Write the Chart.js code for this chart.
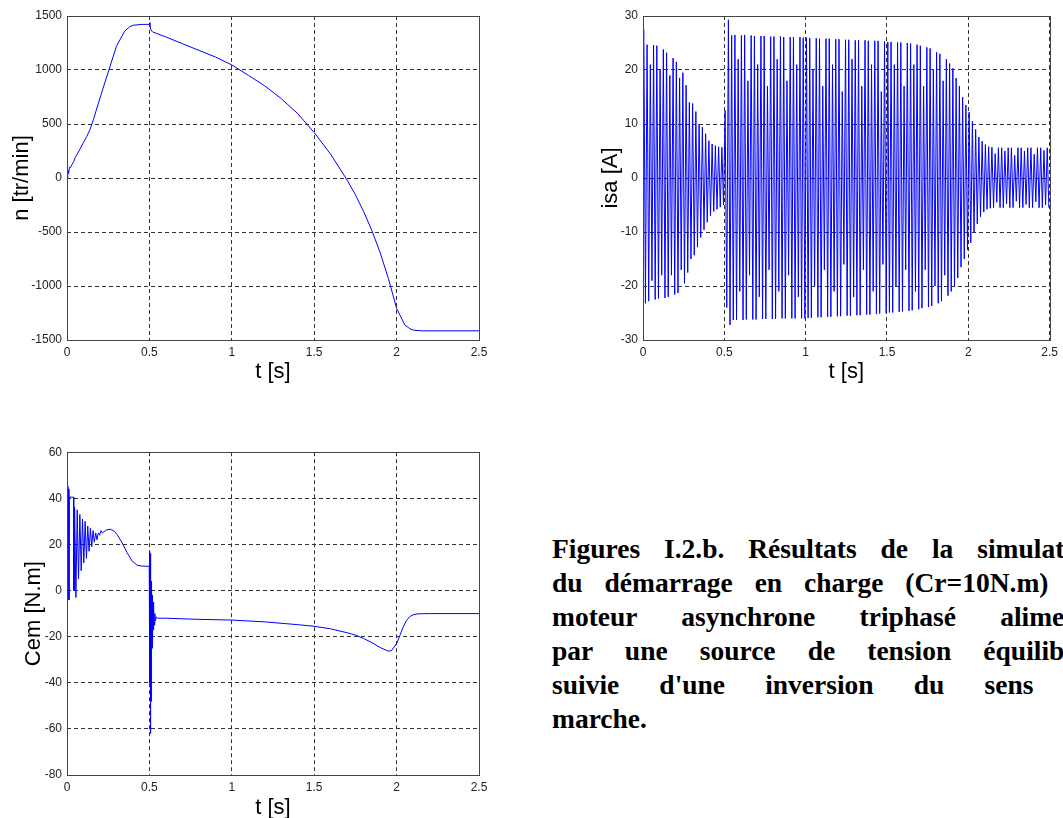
<!DOCTYPE html>
<html>
<head>
<meta charset="utf-8">
<script src="https://cdn.jsdelivr.net/npm/chart.js@4.4.0/dist/chart.umd.min.js"></script>
<style>
  html, body { margin: 0; padding: 0; background: #fff; }
  body { width: 1063px; height: 818px; position: relative; overflow: hidden; }
  canvas { position: absolute; }
  #caption {
    position: absolute; left: 552px; top: 532px; width: 549px;
    font: bold 27.5px "Liberation Serif", "Times New Roman", serif;
    line-height: 34px; color: #000;
  }
  #caption div { text-align: justify; text-align-last: justify; }
  #caption div.last { text-align-last: left; }
</style>
</head>
<body>
<canvas id="speedChart" width="500" height="400" style="left:0;top:0;width:500px;height:400px"></canvas>
<canvas id="currentChart" width="503" height="400" style="left:560px;top:0;width:503px;height:400px"></canvas>
<canvas id="torqueChart" width="500" height="390" style="left:0;top:440px;width:500px;height:390px"></canvas>
<div id="caption">
  <div>Figures I.2.b. Résultats de la simulation</div>
  <div>du démarrage en charge (Cr=10N.m) du</div>
  <div>moteur asynchrone triphasé alimenté</div>
  <div>par une source de tension équilibrée</div>
  <div>suivie d'une inversion du sens de</div>
  <div class="last">marche.</div>
</div>
<script>
// speed n [tr/min]
var speedT = [0, 0.005, 0.01, 0.015, 0.02, 0.03, 0.04, 0.05, 0.08, 0.1, 0.12, 0.14, 0.16, 0.2, 0.25, 0.3, 0.35, 0.38, 0.4, 0.45,
  0.5, 0.503, 0.507, 0.515, 0.52, 0.6, 0.7, 0.8, 0.9, 1.0, 1.1, 1.2, 1.3, 1.4, 1.5, 1.6, 1.7, 1.75, 1.8, 1.85, 1.9, 1.95,
  2.0, 2.05, 2.08, 2.1, 2.15, 2.5];
var speedN = [0, 74, 43, 100, 95, 125, 150, 190, 270, 330, 385, 450, 540, 740, 980, 1220, 1360, 1400, 1414, 1422,
  1423, 1440, 1380, 1360, 1352, 1306, 1244, 1182, 1121, 1047, 951, 853, 735, 596, 421, 220, -20, -155, -310, -487, -690, -930,
  -1207, -1361, -1395, -1408, -1415, -1415];

// stator current isa [A]: one upper and one lower peak per 50 Hz cycle
var isaPeriod = 0.02;
var isaUpper = [
  27.5, 24.7, 21, 24.6, 24.5, 20, 23.8, 23.2, 19, 22.2, 21.5, 18.5, 19.5, 17.2, 14, 13.8, 12.3, 10, 9.4, 8.2, 6.9, 6.3, 6.0, 5.8, 5.7,
  12.5, 29.3,
  26.4, 26.5, 22, 26.4, 26.5, 18, 26.4, 26.3, 21, 26.3, 26.3, 17, 26.2, 26.2, 22, 26.2, 26.1, 18, 26.1, 26.1, 21, 26.1, 26.0,
  26.0, 25.9, 20, 25.9, 25.8, 17, 25.8, 25.8, 21, 25.7, 25.7, 16, 25.6, 25.6, 22, 25.5, 25.5, 17, 25.5, 25.4, 21, 25.4, 25.4, 16, 25.3,
  25.2, 25.2, 21, 25.1, 25.1, 17, 25.0, 24.9, 21, 24.7, 24.5, 17, 24.2, 24.0, 20, 23.3, 23.0, 18, 22.0, 21.2, 20.3, 18.5, 17.0, 15.0, 13.5,
  12.2, 10.5, 9.0, 7.6, 6.8, 6.2, 5.8, 5.7, 4.5, 5.6, 5.6, 5.0, 5.6, 5.6, 4.2, 5.6, 5.6, 5.0, 5.6, 5.6, 4.4, 5.6, 5.6, 5.1, 5.6
];
var isaLower = [
  -23.2, -22.8, -19, -22.5, -22.3, -18, -22.2, -22.0, -18, -21.6, -21.3, -17, -19.5, -17.5, -15, -14.3, -12.8, -11, -9.6, -8.2, -7.0, -6.2, -5.8, -5.4, -5.0,
  -24, -27.2,
  -26.3, -26.3, -21, -26.3, -26.2, -18, -26.2, -26.2, -22, -26.1, -26.1, -17, -26.1, -26.1, -21, -26.0, -26.0, -18, -26.0, -26.0, -22, -26.0, -26.0,
  -25.9, -25.9, -20, -25.8, -25.8, -17, -25.7, -25.7, -21, -25.6, -25.6, -16, -25.5, -25.5, -22, -25.4, -25.4, -17, -25.3, -25.3, -21, -25.2, -25.1, -16, -25.0,
  -24.9, -24.9, -20, -24.8, -24.7, -17, -24.6, -24.5, -21, -24.3, -24.1, -17, -23.9, -23.7, -20, -23.2, -22.8, -18, -21.8, -21.0, -20.1, -18.5, -16.5, -15.0, -13.3,
  -12.0, -10.0, -8.5, -7.2, -6.3, -5.8, -5.6, -5.5, -4.5, -5.5, -5.5, -4.8, -5.5, -5.5, -4.3, -5.5, -5.5, -4.9, -5.5, -5.5, -4.4, -5.5, -5.5, -5.0, -5.5
];

// electromagnetic torque Cem [N.m]
var cemT = [0, 0.003, 0.009, 0.012, 0.014, 0.040, 0.041, 0.044,
  0.046, 0.054, 0.062, 0.070, 0.078, 0.086, 0.094, 0.102, 0.110, 0.118, 0.126, 0.134, 0.142, 0.150, 0.158, 0.166,
  0.174, 0.182, 0.190, 0.198, 0.206, 0.214,
  0.224, 0.24, 0.263, 0.285, 0.303, 0.334, 0.364, 0.394, 0.425, 0.455, 0.499,
  0.5005, 0.503, 0.5045, 0.5065, 0.508, 0.510, 0.5115, 0.513, 0.5145, 0.516, 0.518, 0.520, 0.522, 0.524, 0.527, 0.530,
  0.533, 0.537, 0.542, 0.55,
  0.6, 0.8, 1.0, 1.2, 1.4, 1.5, 1.6, 1.7, 1.75, 1.8, 1.85, 1.9, 1.95, 1.97, 2.0, 2.02, 2.04, 2.06, 2.08, 2.1, 2.13, 2.2, 2.5];
var cemV = [15, 46, 44, -4, 40.5, 40.5, 0, 0,
  36, -3, 35, 5, 33, 8.6, 31, 12, 30, 14, 28, 17, 27, 19, 26, 21,
  25, 22, 25, 24, 26, 25,
  25.5, 26.3, 26.6, 25.8, 24.4, 20.8, 16.5, 12.9, 11.0, 10.6, 10.5,
  17, -40, 16, -62, 8, -48, 4, -35, 2, -25, -2, -20, -5, -17, -8, -15,
  -10, -13, -11.5, -12,
  -12, -12.5, -12.8, -13.6, -14.8, -15.5, -16.6, -18.3, -19.3, -20.8, -22.6, -24.7, -26.3, -26, -23, -19.5, -15.8, -13, -11.3, -10.5, -10.1, -10, -10];

var tTicks = [0, 2.5, 0.5];

Chart.defaults.font.family = '"Liberation Sans", Arial, sans-serif';
Chart.defaults.animation = false;

function toPoints(xs, ys) {
  var pts = [];
  for (var i = 0; i < xs.length; i++) pts.push({x: xs[i], y: ys[i]});
  return pts;
}

var isaT = [], isaV = [];
for (var k = 0; k < isaUpper.length; k++) {
  isaT.push(k * isaPeriod + isaPeriod / 4);
  isaV.push(isaUpper[k]);
  isaT.push(k * isaPeriod + 3 * isaPeriod / 4);
  isaV.push(isaLower[k]);
}

// draws the closed axes box like matlab
var frame = {
  id: 'frame',
  afterDraw: function (chart) {
    var a = chart.chartArea, c = chart.ctx;
    c.save();
    c.strokeStyle = '#444';
    c.lineWidth = 1;
    c.setLineDash([]);
    c.strokeRect(Math.round(a.left) + 0.5, Math.round(a.top) + 0.5,
      Math.round(a.right - a.left), Math.round(a.bottom - a.top));
    c.restore();
  }
};

function makeChart(id, pts, yTitle, yMin, yMax, yStep, box) {
  return new Chart(document.getElementById(id).getContext('2d'), {
    type: 'line',
    data: {
      datasets: [{
        data: pts,
        borderColor: '#0000ff',
        borderWidth: 1,
        pointRadius: 0,
        tension: 0,
        fill: false
      }]
    },
    options: {
      responsive: false,
      devicePixelRatio: 1,
      layout: { padding: { left: 0, top: box.top, right: box.right, bottom: 0 } },
      plugins: {
        legend: { display: false },
        title: { display: false },
        tooltip: { enabled: false }
      },
      scales: {
        x: {
          type: 'linear', min: tTicks[0], max: tTicks[1],
          ticks: { stepSize: tTicks[2], autoSkip: false, maxRotation: 0, color: '#222', font: { size: 12 }, padding: 5,
            callback: function (v) { return String(v); } },
          grid: { color: '#333', drawTicks: false },
          border: { display: false, dash: [4, 3] },
          title: { display: true, text: 't [s]', color: '#000', font: { size: 22 }, padding: { top: 0, bottom: box.xTitle } },
          afterFit: function (s) { s.height = box.xHeight; }
        },
        y: {
          type: 'linear', min: yMin, max: yMax,
          ticks: { stepSize: yStep, autoSkip: false, color: '#222', font: { size: 12 }, padding: 5,
            callback: function (v) { return String(v); } },
          grid: { color: '#333', drawTicks: false },
          border: { display: false, dash: [4, 3] },
          title: { display: true, text: yTitle, color: '#000', font: { size: 22 }, padding: { top: box.yTitle, bottom: 0 } },
          afterFit: function (s) { s.width = box.yWidth; }
        }
      }
    },
    plugins: [frame]
  });
}

var speedChart = makeChart('speedChart', toPoints(speedT, speedN), 'n [tr/min]', -1500, 1500, 500,
  { top: 16, right: 21, xHeight: 60, yWidth: 67, xTitle: 15, yTitle: 9 });
var currentChart = makeChart('currentChart', toPoints(isaT, isaV), 'isa [A]', -30, 30, 10,
  { top: 16, right: 8, xHeight: 60, yWidth: 83, xTitle: 15, yTitle: 38 });
var torqueChart = makeChart('torqueChart', toPoints(cemT, cemV), 'Cem [N.m]', -80, 60, 20,
  { top: 11, right: 21, xHeight: 55, yWidth: 67, xTitle: 9, yTitle: 21 });
</script>
</body>
</html>
